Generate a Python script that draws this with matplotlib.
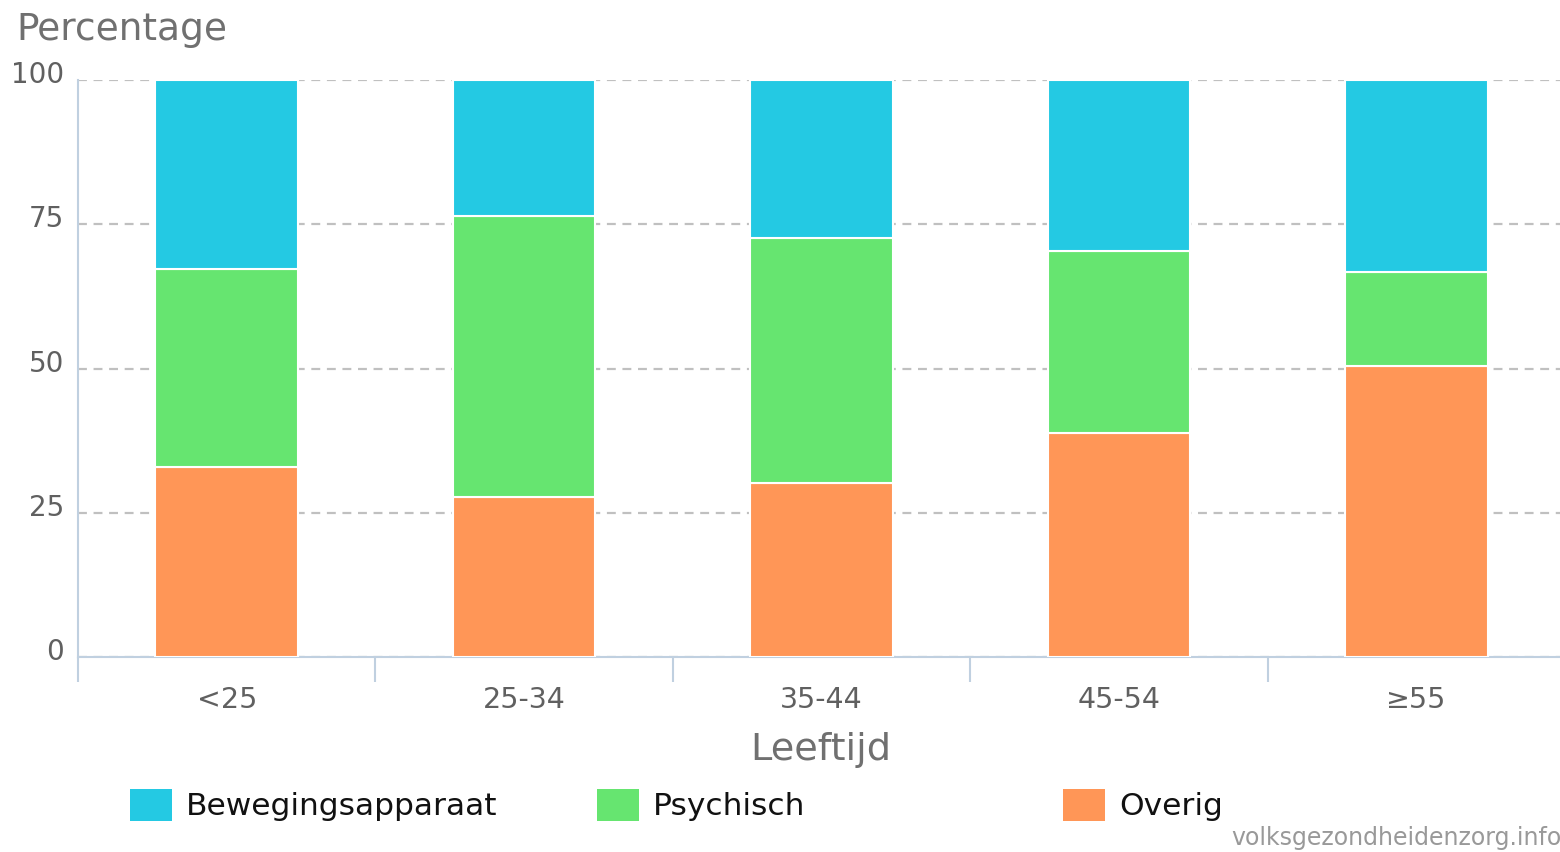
import matplotlib
matplotlib.use("Agg")
import matplotlib.pyplot as plt
from matplotlib.patches import Rectangle
from matplotlib.transforms import ScaledTranslation
import numpy as np

categories = ["<25", "25-34", "35-44", "45-54", "≥55"]
overig = [32.9, 27.8, 30.2, 38.8, 50.5]
psychisch = [34.3, 48.6, 42.5, 31.6, 16.2]
beweging = [32.8, 23.6, 27.3, 29.6, 33.3]
series_names = ["Bewegingsapparaat", "Psychisch", "Overig"]
colors = {"Bewegingsapparaat": "#24C9E3", "Psychisch": "#66E570", "Overig": "#FF9657"}
yticks = [0, 25, 50, 75, 100]

plt.rcParams['font.family'] = ['DejaVu Sans']

W, H = 1560, 853
fig = plt.figure(figsize=(W / 100, H / 100), dpi=100)
ax = fig.add_axes([78 / W, (H - 658) / H, (1565 - 78) / W, (658 - 81) / H])

x = np.arange(len(categories))
bw = 0.48
ax.bar(x, overig, bw, color=colors["Overig"], edgecolor="white", linewidth=1.5, zorder=3)
ax.bar(x, psychisch, bw, bottom=overig, color=colors["Psychisch"], edgecolor="white", linewidth=1.5, zorder=3)
bottom2 = np.array(overig) + np.array(psychisch)
ax.bar(x, beweging, bw, bottom=bottom2, color=colors["Bewegingsapparaat"], edgecolor="white", linewidth=1.5, zorder=3)

ax.set_xlim(-0.5, len(categories) - 0.5)
ax.set_ylim(0, 100)

for s in ["top", "right"]:
    ax.spines[s].set_visible(False)
for s in ["left", "bottom"]:
    ax.spines[s].set_color("#C0D0E0")
    ax.spines[s].set_linewidth(1.5)

ax.set_yticks(yticks)
ax.set_yticklabels([str(v) for v in yticks], fontsize=20, color="#606060")
ax.tick_params(axis="y", length=0, pad=10)
for lbl in ax.get_yticklabels():
    lbl.set_transform(lbl.get_transform() + ScaledTranslation(0, 9 / 100, fig.dpi_scale_trans))

ax.set_xticks(x)
ax.set_xticklabels(categories, fontsize=20.5, color="#606060")
ax.tick_params(axis="x", which="major", length=0, pad=20)
ax.set_xticks(np.arange(-0.5, len(categories) + 0.5, 1), minor=True)
ax.tick_params(axis="x", which="minor", length=18, width=1.5, color="#C0D0E0")

ax.yaxis.grid(True, linestyle=(0, (4, 3)), color="#C0C0C0", linewidth=1.6, zorder=0)
ax.set_axisbelow(True)

fig.text(16 / W, 1 - 30 / H, "Percentage", fontsize=27, color="#707070", ha="left", va="center")
fig.text(821 / W, 1 - 750 / H, "Leeftijd", fontsize=27.5, color="#707070", ha="center", va="center")

# legend
leg_x = [130, 597, 1063]
for name, lx in zip(series_names, leg_x):
    fig.patches.append(Rectangle((lx / W, 1 - 822 / H), 42 / W, 32 / H, transform=fig.transFigure,
                                 facecolor=colors[name], edgecolor="none"))
    fig.text((lx + 56) / W, 1 - 807 / H, name, fontsize=22.5, color="#111111", ha="left", va="center")

fig.text(1562 / W, 1 - 838 / H, "volksgezondheidenzorg.info", fontsize=17, color="#999999",
         ha="right", va="center")

fig.savefig("out.png", dpi=100)
